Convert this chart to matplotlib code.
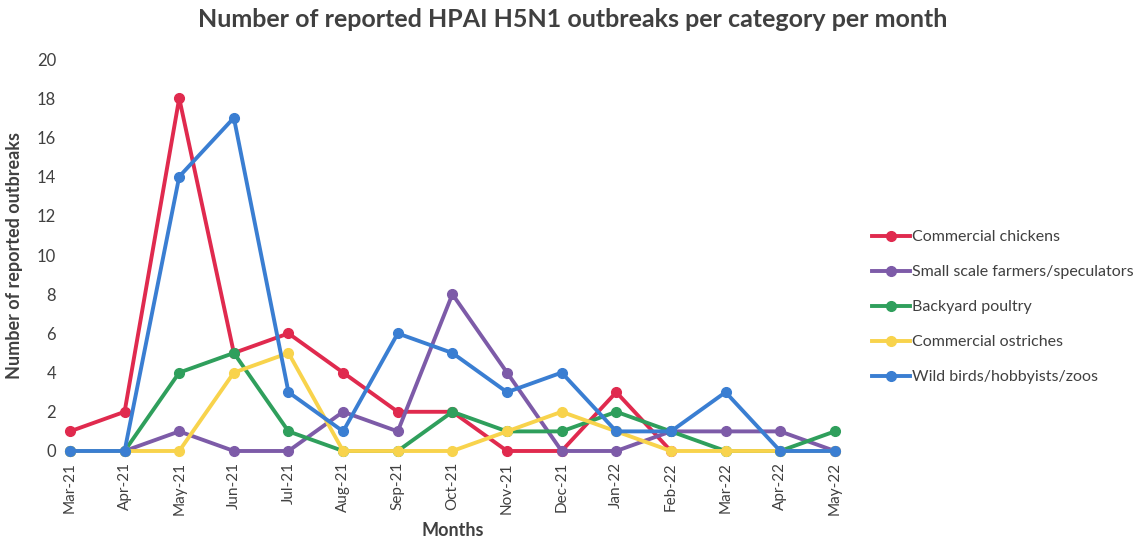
import matplotlib
matplotlib.use("Agg")
import matplotlib.pyplot as plt
import numpy as np

months = ["Mar-21", "Apr-21", "May-21", "Jun-21", "Jul-21", "Aug-21", "Sep-21", "Oct-21",
          "Nov-21", "Dec-21", "Jan-22", "Feb-22", "Mar-22", "Apr-22", "May-22"]

commercial_chickens = [1, 2, 18, 5, 6, 4, 2, 2, 0, 0, 3, 0, np.nan, np.nan, np.nan]
small_scale = [0, 0, 1, 0, 0, 2, 1, 8, 4, 0, 0, 1, 1, 1, 0]
backyard = [0, 0, 4, 5, 1, 0, 0, 2, 1, 1, 2, 1, 0, 0, 1]
ostriches = [0, 0, 0, 4, 5, 0, 0, 0, 1, 2, 1, 0, 0, 0, 0]
wild_birds = [0, 0, 14, 17, 3, 1, 6, 5, 3, 4, 1, 1, 3, 0, 0]

series = [
    ("Commercial chickens", commercial_chickens, "#E02A4E"),
    ("Small scale farmers/speculators", small_scale, "#7D5BA8"),
    ("Backyard poultry", backyard, "#2F9F5C"),
    ("Commercial ostriches", ostriches, "#F8D34C"),
    ("Wild birds/hobbyists/zoos", wild_birds, "#3A7ED2"),
]

plt.rcParams['font.family'] = ['Lato', 'DejaVu Sans']

fig = plt.figure(figsize=(11.45, 5.45), dpi=100)
ax = fig.add_axes([0.0611, 0.1725, 0.668, 0.7192])

x = np.arange(len(months))
for name, vals, col in series:
    ax.plot(x, vals, color=col, lw=2.8, marker="o", markersize=7, label=name, clip_on=False)

ax.set_xlim(0, len(months) - 1)
ax.set_ylim(0, 20)
ax.set_yticks(range(0, 21, 2))
ax.set_xticks(x)
ax.set_xticklabels(months, rotation=90, fontsize=11, color="#404040")
ax.tick_params(axis="y", labelsize=12, labelcolor="#404040", length=0, pad=10)
ax.tick_params(axis="x", length=0, pad=8)
for s in ax.spines.values():
    s.set_visible(False)

ax.set_xlabel("Months", fontsize=13, fontweight="bold", color="#404040", labelpad=5)
ax.set_ylabel("Number of reported outbreaks", fontsize=13, fontweight="bold", color="#404040", labelpad=10)
fig.suptitle("Number of reported HPAI H5N1 outbreaks per category per month",
             fontsize=18, fontweight="bold", color="#404040", y=0.985)

ax.legend(loc="center left", bbox_to_anchor=(1.03, 0.367), frameon=False, fontsize=11.5,
          handlelength=2.4, handletextpad=0.1, labelspacing=1.3, labelcolor="#404040")

fig.savefig("out.png", dpi=100)
